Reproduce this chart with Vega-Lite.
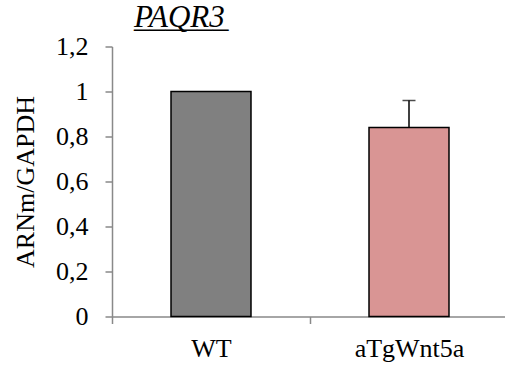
{
  "$schema": "https://vega.github.io/schema/vega-lite/v6.json",
  "width": 396,
  "height": 270,
  "autosize": "none",
  "padding": {"left": 112, "top": 46.5, "right": 0, "bottom": 50.5},
  "background": "white",
  "title": {
    "text": "PAQR3",
    "subtitle": "______",
    "font": "Liberation Serif, Times New Roman, serif",
    "fontSize": 31,
    "fontStyle": "italic",
    "fontWeight": "normal",
    "subtitleFont": "Liberation Serif, Times New Roman, serif",
    "subtitleFontSize": 31.5,
    "subtitleColor": "black",
    "subtitlePadding": -31,
    "anchor": "start",
    "frame": "group",
    "dx": 22,
    "dy": 28,
    "offset": 3,
    "baseline": "alphabetic",
    "color": "black"
  },
  "data": {
    "values": [
      {"group": "WT", "value": 1.0, "err": null},
      {"group": "aTgWnt5a", "value": 0.84, "err": 0.96}
    ]
  },
  "encoding": {
    "x": {
      "field": "group",
      "type": "nominal",
      "sort": null,
      "scale": {"paddingInner": 0, "paddingOuter": 0},
      "axis": {
        "title": null,
        "labelAngle": 0,
        "tickBand": "extent",
        "domainColor": "#898989",
        "tickColor": "#898989",
        "domainWidth": 1.5,
        "tickWidth": 1.5,
        "tickSize": 7,
        "labelFont": "Liberation Serif, Times New Roman, serif",
        "labelFontSize": 26,
        "labelColor": "black",
        "labelPadding": 12
      }
    }
  },
  "layer": [
    {
      "mark": {"type": "bar", "width": {"band": 0.404}, "stroke": "black", "strokeWidth": 1.5},
      "encoding": {
        "y": {
          "field": "value",
          "type": "quantitative",
          "scale": {"domain": [0, 1.2]},
          "axis": {
            "values": [0, 0.2, 0.4, 0.6, 0.8, 1, 1.2],
            "labelExpr": "replace(format(datum.value, '.1~f'), '.', ',')",
            "grid": false,
            "domainColor": "#898989",
            "tickColor": "#898989",
            "domainWidth": 1.5,
            "tickWidth": 1.5,
            "tickSize": 7,
            "labelFont": "Liberation Serif, Times New Roman, serif",
            "labelFontSize": 26,
            "labelColor": "black",
            "labelPadding": 17,
            "title": "ARNm/GAPDH",
            "titleFont": "Liberation Serif, Times New Roman, serif",
            "titleFontSize": 26,
            "titleFontWeight": "normal",
            "titleColor": "black",
            "titlePadding": 17
          }
        },
        "color": {
          "field": "group",
          "type": "nominal",
          "scale": {"domain": ["WT", "aTgWnt5a"], "range": ["#808080", "#D99594"]},
          "legend": null
        }
      }
    },
    {
      "transform": [{"filter": "datum.err != null"}],
      "mark": {"type": "rule", "color": "black", "strokeWidth": 1.5},
      "encoding": {
        "y": {"field": "value", "type": "quantitative"},
        "y2": {"field": "err"}
      }
    },
    {
      "transform": [{"filter": "datum.err != null"}],
      "mark": {"type": "tick", "color": "black", "thickness": 1.5, "size": 13},
      "encoding": {
        "y": {"field": "err", "type": "quantitative"}
      }
    }
  ],
  "config": {"view": {"stroke": null}}
}
